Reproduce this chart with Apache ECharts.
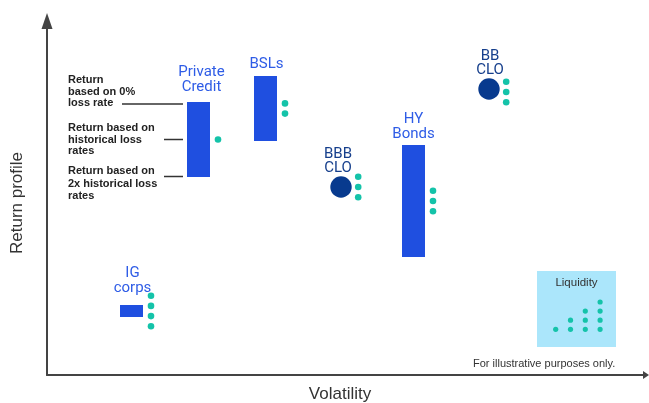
<!DOCTYPE html>
<html>
<head>
<meta charset="utf-8">
<script src="https://cdn.jsdelivr.net/npm/echarts@6/dist/echarts.min.js"></script>
<style>html,body{margin:0;padding:0;background:#fff}#c{width:649px;height:403px}</style>
</head>
<body>
<div id="c"></div>
<script>
// ---- data (illustrative units) ----
const rangeNames = ['Private\nCredit', 'BSLs', 'HY\nBonds', 'IG\ncorps'];
const rangeVol = [151.5, 218.5, 366.5, 84.5];
const rangeHigh = [273, 299, 230, 70];
const rangeLow = [198, 234, 118, 58];
const rangeLiquidity = [1, 2, 3, 4];

const cloNames = ['BBB\nCLO', 'BB\nCLO'];
const cloVol = [294, 442];
const cloReturn = [188, 286];
const cloLiquidity = [3, 3];

const annotations = [
  'Return\nbased on 0%\nloss rate',
  'Return based on\nhistorical loss\nrates',
  'Return based on\n2x historical loss\nrates'
];
const legendLevels = [1, 2, 3, 4];

// ---- styles ----
const BAR = '#1f4fe0';
const LABEL_BLUE = '#2e5ce6';
const NAVY = '#083a8e';
const NAVY_LABEL = '#163f8c';
const TEAL = '#14c3a9';
const BOX = '#abe6fb';
const TXT = '#333';
const barWidth = 23;
const labelGap = [8, 5, 4, 10];
const labelDx = [3, 1, 0, 1];

function dots(cx, cy, n, children) {
  for (let i = 0; i < n; i++) {
    children.push({type: 'circle', shape: {cx: cx, cy: cy + (i - (n - 1) / 2) * 10.2, r: 3.3}, style: {fill: TEAL}});
  }
}

function renderRange(params, api) {
  const idx = params.dataIndex;
  const x = api.value(0), hi = api.value(1), lo = api.value(2), liq = api.value(3);
  const pT = api.coord([x, hi]), pB = api.coord([x, lo]);
  const left = pT[0] - barWidth / 2;
  const children = [
    {type: 'rect', shape: {x: left, y: pT[1], width: barWidth, height: pB[1] - pT[1]}, style: {fill: BAR}},
    {type: 'text', style: {text: rangeNames[idx], x: pT[0] + labelDx[idx], y: pT[1] - labelGap[idx], align: 'center', verticalAlign: 'bottom',
      font: '15px Roboto', lineHeight: 14.5, fill: LABEL_BLUE}}
  ];
  dots(left + barWidth + 8, (pT[1] + pB[1]) / 2, liq, children);
  if (idx === 0) {
    const mid = (pT[1] + pB[1]) / 2;
    const lineStyle = {stroke: '#333', lineWidth: 1.5};
    children.push({type: 'line', shape: {x1: left - 65, y1: pT[1] + 2, x2: left - 4, y2: pT[1] + 2}, style: lineStyle});
    children.push({type: 'line', shape: {x1: left - 23, y1: mid, x2: left - 4, y2: mid}, style: lineStyle});
    children.push({type: 'line', shape: {x1: left - 23, y1: pB[1] - 0.5, x2: left - 4, y2: pB[1] - 0.5}, style: lineStyle});
    const f = 'bold 11px "Liberation Sans"';
    children.push({type: 'text', style: {text: annotations[0], x: 68, y: pT[1] + 7, verticalAlign: 'bottom', font: f, lineHeight: 11.5, fill: '#222'}});
    children.push({type: 'text', style: {text: annotations[1], x: 68, y: mid, verticalAlign: 'middle', font: f, lineHeight: 11.5, fill: '#222'}});
    children.push({type: 'text', style: {text: annotations[2], x: 68, y: pB[1] - 12, verticalAlign: 'top', font: f, lineHeight: 12.5, fill: '#222'}});
  }
  return {type: 'group', children: children};
}

function renderClo(params, api) {
  const idx = params.dataIndex;
  const p = api.coord([api.value(0), api.value(1)]);
  const r = 10.7;
  const children = [
    {type: 'circle', shape: {cx: p[0], cy: p[1], r: r}, style: {fill: NAVY}},
    {type: 'text', style: {text: cloNames[idx], x: p[0] + (idx === 0 ? -3 : 1), y: p[1] - r - 0.5, align: 'center', verticalAlign: 'bottom',
      font: '15px Roboto', lineHeight: 14.5, fill: NAVY_LABEL}}
  ];
  dots(p[0] + r + 6.5, p[1] + (idx === 1 ? 3 : 0), api.value(2), children);
  return {type: 'group', children: children};
}

const rangeData = rangeNames.map((n, i) => [rangeVol[i], rangeHigh[i], rangeLow[i], rangeLiquidity[i]]);
const cloData = cloNames.map((n, i) => [cloVol[i], cloReturn[i], cloLiquidity[i]]);

// legend graphic
const legendChildren = [
  {type: 'rect', shape: {x: 537, y: 271, width: 79, height: 76}, style: {fill: BOX}},
  {type: 'text', style: {text: 'Liquidity', x: 576.5, y: 283, align: 'center', verticalAlign: 'middle', font: '11.5px "Liberation Sans"', fill: TXT}}
];
legendLevels.forEach((lv, c) => {
  for (let k = 0; k < lv; k++) {
    legendChildren.push({type: 'circle', shape: {cx: 555.7 + c * 14.8, cy: 329.3 - k * 9.1, r: 2.6}, style: {fill: TEAL}});
  }
});

const chart = echarts.init(document.getElementById('c'), null, {renderer: 'canvas'});
chart.setOption({
  animation: false,
  grid: {left: 47, top: 21, width: 599, height: 354, outerBoundsMode: 'none', containLabel: false},
  xAxis: {
    type: 'value', min: 0, max: 599,
    name: 'Volatility', nameLocation: 'middle', nameGap: 11,
    nameTextStyle: {fontFamily: 'Liberation Sans', fontSize: 17, color: TXT, padding: [0, 13, 0, 0]},
    axisLine: {show: true, symbol: ['none', 'triangle'], symbolSize: [8, 6], lineStyle: {color: '#444', width: 2}},
    axisTick: {show: false}, axisLabel: {show: false}, splitLine: {show: false}
  },
  yAxis: {
    type: 'value', min: 0, max: 354,
    name: 'Return profile', nameLocation: 'middle', nameGap: 21,
    nameTextStyle: {fontFamily: 'Liberation Sans', fontSize: 17, color: TXT, padding: [0, 10, 0, 0]},
    axisLine: {show: true, symbol: ['none', 'triangle'], symbolSize: [11, 16], lineStyle: {color: '#444', width: 2}},
    axisTick: {show: false}, axisLabel: {show: false}, splitLine: {show: false}
  },
  series: [
    {type: 'custom', name: 'ranges', renderItem: renderRange, data: rangeData, clip: false},
    {type: 'custom', name: 'CLOs', renderItem: renderClo, data: cloData, clip: false}
  ],
  graphic: [
    {type: 'group', children: legendChildren},
    {type: 'text', style: {text: 'For illustrative purposes only.', x: 473, y: 364, verticalAlign: 'middle', font: '11px "Liberation Sans"', fill: TXT}}
  ]
});
</script>
</body>
</html>
